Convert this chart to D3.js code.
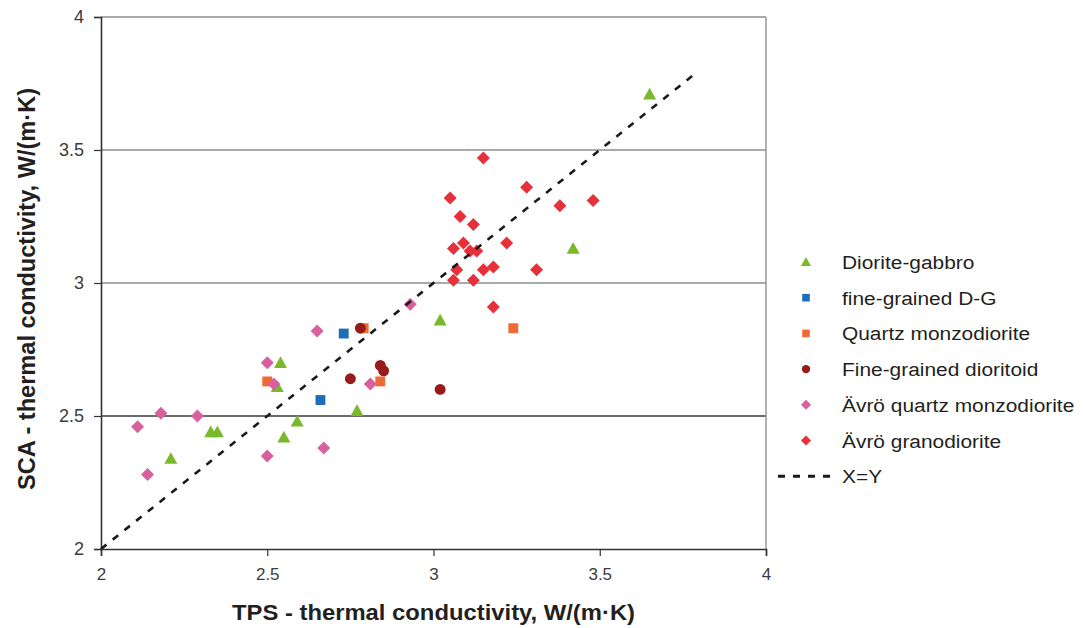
<!DOCTYPE html>
<html>
<head>
<meta charset="utf-8">
<script src="https://cdn.jsdelivr.net/npm/d3@7"></script>
<style>
  html, body { margin: 0; padding: 0; background: #fff; }
  svg { display: block; font-family: "Liberation Sans", Arial, sans-serif; }
</style>
</head>
<body>
<svg id="chart" width="1083" height="628"></svg>
<script>
// TPS (x) vs SCA (y) thermal conductivity, W/(m·K), per rock type
const dioriteGabbro = [
  [3.65, 3.71], [3.42, 3.13], [3.02, 2.86], [2.77, 2.52], [2.59, 2.48],
  [2.55, 2.42], [2.54, 2.70], [2.53, 2.61], [2.35, 2.44], [2.33, 2.44], [2.21, 2.34]
];
const fineGrainedDG = [[2.73, 2.81], [2.66, 2.56]];
const quartzMonzodiorite = [[2.79, 2.83], [2.84, 2.63], [3.24, 2.83], [2.50, 2.63]];
const fineGrainedDioritoid = [[2.78, 2.83], [2.75, 2.64], [2.84, 2.69], [2.85, 2.67], [3.02, 2.60]];
const avroQuartzMonzodiorite = [
  [2.65, 2.82], [2.50, 2.70], [2.52, 2.62], [2.18, 2.51], [2.29, 2.50], [2.11, 2.46],
  [2.14, 2.28], [2.50, 2.35], [2.67, 2.38], [2.93, 2.92], [2.81, 2.62]
];
const avroGranodiorite = [
  [3.15, 3.47], [3.28, 3.36], [3.05, 3.32], [3.48, 3.31], [3.38, 3.29], [3.08, 3.25],
  [3.12, 3.22], [3.09, 3.15], [3.22, 3.15], [3.06, 3.13], [3.11, 3.12], [3.13, 3.12],
  [3.07, 3.05], [3.15, 3.05], [3.18, 3.06], [3.31, 3.05], [3.06, 3.01], [3.12, 3.01], [3.18, 2.91]
];
const identityLine = [[2.0, 2.0], [3.79, 3.79]];

const xTicks = [2, 2.5, 3, 3.5, 4];
const yTicks = [2, 2.5, 3, 3.5, 4];
const xTitle = "TPS - thermal conductivity, W/(m·K)";
const yTitle = "SCA - thermal conductivity, W/(m·K)";

const seriesNames = ["Diorite-gabbro", "fine-grained D-G", "Quartz monzodiorite",
  "Fine-grained dioritoid", "Ävrö quartz monzodiorite", "Ävrö granodiorite"];
const seriesData = [dioriteGabbro, fineGrainedDG, quartzMonzodiorite,
  fineGrainedDioritoid, avroQuartzMonzodiorite, avroGranodiorite];
const seriesColors = ["#7ab82c", "#1f6cb7", "#f06a34", "#981b1b", "#d8609f", "#e8303a"];
const seriesShapes = ["triangle", "square", "square", "circle", "diamond", "diamond"];

const svg = d3.select("#chart");
const plot = { left: 101, right: 766, top: 17, bottom: 549 };

const x = d3.scaleLinear().domain([2, 4]).range([plot.left, plot.right]);
const y = d3.scaleLinear().domain([2, 4]).range([plot.bottom, plot.top]);

// horizontal gridlines
svg.append("g").selectAll("line").data(yTicks.filter(v => v > 2)).join("line")
  .attr("x1", plot.left).attr("x2", plot.right)
  .attr("y1", d => y(d)).attr("y2", d => y(d))
  .attr("stroke", d => d === 2.5 ? "#3a3a3a" : "#8e8e8e")
  .attr("stroke-width", d => d === 4 ? 1.5 : 1.6);

// right frame
svg.append("line")
  .attr("x1", plot.right).attr("x2", plot.right)
  .attr("y1", plot.top).attr("y2", plot.bottom)
  .attr("stroke", "#9a9a9a").attr("stroke-width", 1.5);

// axes
const xAxis = d3.axisBottom(x).tickValues(xTicks).tickFormat(d3.format("")).tickSize(7).tickPadding(8);
const yAxis = d3.axisLeft(y).tickValues(yTicks).tickFormat(d3.format("")).tickSize(7).tickPadding(10);

const gx = svg.append("g").attr("transform", `translate(0,${plot.bottom})`).call(xAxis);
const gy = svg.append("g").attr("transform", `translate(${plot.left},0)`).call(yAxis);
[gx, gy].forEach(g => {
  g.select(".domain").attr("stroke", "#333").attr("stroke-width", 1.6);
  g.selectAll(".tick line").attr("stroke", "#333").attr("stroke-width", 1.2);
  g.selectAll(".tick text").attr("fill", "#3c3c3c")
    .attr("font-family", "'Liberation Sans', Arial, sans-serif");
});
gy.selectAll(".tick text").attr("font-size", 18);
gx.selectAll(".tick text").attr("font-size", 17).attr("dy", "0.95em");

// axis titles
svg.append("text")
  .attr("x", (plot.left + plot.right) / 2).attr("y", 620)
  .attr("text-anchor", "middle")
  .attr("font-size", 22).attr("font-weight", "bold").attr("fill", "#231f20")
  .attr("textLength", 403).attr("lengthAdjust", "spacingAndGlyphs")
  .text(xTitle);

svg.append("text")
  .attr("transform", `translate(35,${289}) rotate(-90)`)
  .attr("text-anchor", "middle")
  .attr("font-size", 23).attr("font-weight", "bold").attr("fill", "#231f20")
  .attr("textLength", 402).attr("lengthAdjust", "spacingAndGlyphs")
  .text(yTitle);

// marker drawing
function marker(sel, shape, size) {
  const s = size;
  if (shape === "triangle") {
    const h = s * 0.9;
    sel.append("path").attr("d", `M0,${-h * 0.55}L${s / 2},${h * 0.45}L${-s / 2},${h * 0.45}Z`);
  } else if (shape === "square") {
    sel.append("rect").attr("x", -s * 0.38).attr("y", -s * 0.38).attr("width", s * 0.76).attr("height", s * 0.76);
  } else if (shape === "circle") {
    sel.append("circle").attr("r", s * 0.42);
  } else {
    const r = s * 0.5;
    sel.append("path").attr("d", `M0,${-r}L${r},0L0,${r}L${-r},0Z`);
  }
}

seriesData.forEach((data, i) => {
  svg.append("g").attr("fill", seriesColors[i])
    .selectAll("g").data(data).join("g")
    .attr("transform", d => `translate(${x(d[0])},${y(d[1])})`)
    .each(function () { marker(d3.select(this), seriesShapes[i], 13); });
});

// X = Y reference line
svg.append("path")
  .datum(identityLine)
  .attr("d", d3.line().x(d => x(d[0])).y(d => y(d[1])))
  .attr("fill", "none").attr("stroke", "#1a1a1a")
  .attr("stroke-width", 2.6).attr("stroke-dasharray", "7,8");

// legend
const legend = svg.append("g");
const legY0 = 262, legStep = 35.7;
seriesNames.forEach((name, i) => {
  const gy0 = legY0 + i * legStep;
  const g = legend.append("g").attr("transform", `translate(806,${gy0})`).attr("fill", seriesColors[i]);
  marker(g, seriesShapes[i], 10);
  legend.append("text")
    .attr("transform", `translate(842,${gy0 + 7}) scale(1.1,1)`)
    .attr("font-size", 19).attr("fill", "#231f20").text(name);
});
const lineY = legY0 + 6 * legStep;
legend.append("line")
  .attr("x1", 778).attr("x2", 835).attr("y1", lineY).attr("y2", lineY)
  .attr("stroke", "#1a1a1a").attr("stroke-width", 3).attr("stroke-dasharray", "7,8");
legend.append("text")
  .attr("transform", `translate(842,${lineY + 7}) scale(1.1,1)`)
  .attr("font-size", 19).attr("fill", "#231f20").text("X=Y");
</script>
</body>
</html>
